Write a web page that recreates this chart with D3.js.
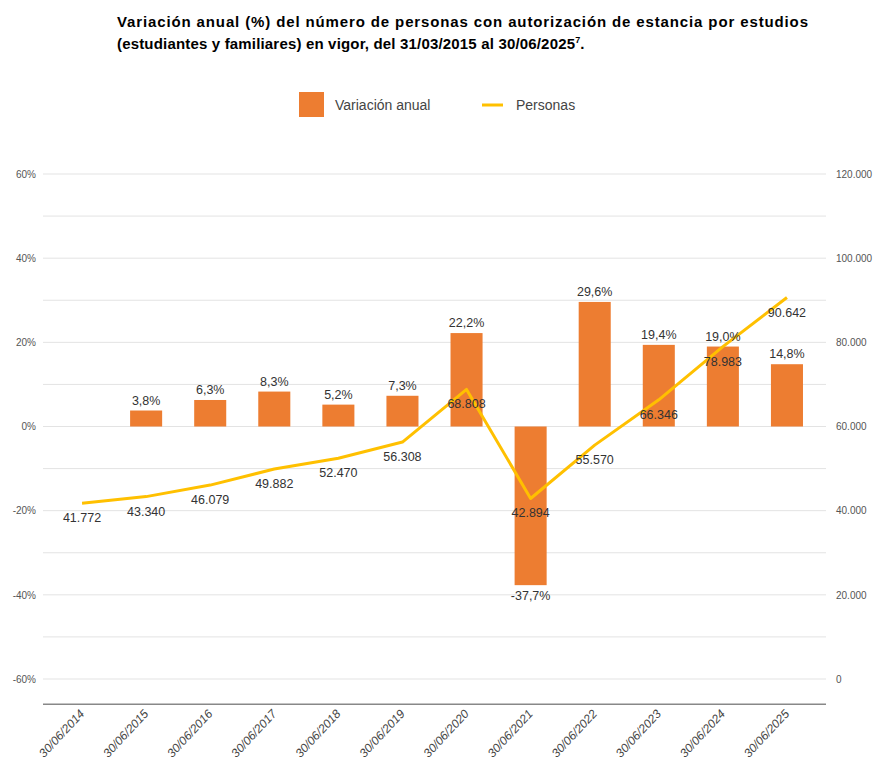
<!DOCTYPE html>
<html>
<head>
<meta charset="utf-8">
<script src="https://cdn.jsdelivr.net/npm/d3@7"></script>
<style>
  body { margin: 0; background: #fff; }
  svg { display: block; }
</style>
</head>
<body>
<svg id="chart"></svg>
<script>
const fechas = ["30/06/2014", "30/06/2015", "30/06/2016", "30/06/2017", "30/06/2018", "30/06/2019",
  "30/06/2020", "30/06/2021", "30/06/2022", "30/06/2023", "30/06/2024", "30/06/2025"];
const variacion = [null, 3.8, 6.3, 8.3, 5.2, 7.3, 22.2, -37.7, 29.6, 19.4, 19.0, 14.8];
const personas = [41772, 43340, 46079, 49882, 52470, 56308, 68808, 42894, 55570, 66346, 78983, 90642];
const ticksIzq = [-60, -40, -20, 0, 20, 40, 60];
const ticksDer = [0, 20000, 40000, 60000, 80000, 100000, 120000];

const width = 874, height = 768;
const svg = d3.select("#chart").attr("width", width).attr("height", height);

const es = d3.formatLocale({ decimal: ",", thousands: ".", grouping: [3], currency: ["", "€"], minus: "-" });
const fmtMiles = es.format(",d");
const fmtPct = es.format(".1f");

const x = d3.scaleBand().domain(fechas).range([50, 819]).paddingInner(0.5).paddingOuter(0.25);
const xc = d => x(d) + x.bandwidth() / 2;
const yL = d3.scaleLinear().domain([-60, 60]).range([679, 174]);
const yR = d3.scaleLinear().domain([0, 120000]).range([679, 174]);
const gridX0 = 43, gridX1 = 826;

// title
const title = svg.append("text")
  .attr("font-family", "'Liberation Sans Narrow', 'Liberation Sans', Arial, sans-serif")
  .attr("font-weight", "bold").attr("font-size", 15).attr("fill", "#000");
title.append("tspan").attr("x", 117).attr("y", 27)
  .attr("textLength", 691).attr("lengthAdjust", "spacing")
  .text("Variación anual (%) del número de personas con autorización de estancia por estudios");
title.append("tspan").attr("x", 117).attr("y", 49)
  .attr("textLength", 458).attr("lengthAdjust", "spacing")
  .text("(estudiantes y familiares) en vigor, del 31/03/2015 al 30/06/2025");
title.append("tspan").attr("font-size", 9).attr("dy", -6).text("7");
title.append("tspan").attr("dy", 6).text(".");

// legend
const legend = svg.append("g").attr("font-family", "Arial, 'Liberation Sans', sans-serif")
  .attr("font-size", 14).attr("fill", "#444");
legend.append("rect").attr("x", 299).attr("y", 92).attr("width", 25).attr("height", 25).attr("fill", "#ED7D31");
legend.append("text").attr("x", 335).attr("y", 110).text("Variación anual");
legend.append("line").attr("x1", 482).attr("x2", 503).attr("y1", 105).attr("y2", 105)
  .attr("stroke", "#FFC000").attr("stroke-width", 3);
legend.append("text").attr("x", 516).attr("y", 110).text("Personas");

// grid lines every 10%
svg.append("g").selectAll("line")
  .data(d3.range(-60, 61, 10))
  .join("line")
  .attr("x1", gridX0).attr("x2", gridX1)
  .attr("y1", d => yL(d)).attr("y2", d => yL(d))
  .attr("stroke", "#e3e3e3").attr("stroke-width", 1);

// axes
const axisL = svg.append("g").attr("transform", `translate(${gridX0 - 4},0)`)
  .call(d3.axisLeft(yL).tickValues(ticksIzq).tickSize(0).tickFormat(d => d + "%"));
const axisR = svg.append("g").attr("transform", `translate(${gridX1 + 7},0)`)
  .call(d3.axisRight(yR).tickValues(ticksDer).tickSize(0).tickFormat(fmtMiles));
[axisL, axisR].forEach(a => {
  a.select(".domain").remove();
  a.selectAll("text").attr("font-family", "Arial, 'Liberation Sans', sans-serif")
    .attr("font-size", 10).attr("fill", "#555");
});

// bars
const barData = fechas.map((f, i) => ({ f, v: variacion[i] })).filter(d => d.v !== null);
svg.append("g").selectAll("rect")
  .data(barData)
  .join("rect")
  .attr("x", d => x(d.f))
  .attr("width", x.bandwidth())
  .attr("y", d => yL(Math.max(0, d.v)))
  .attr("height", d => Math.abs(yL(d.v) - yL(0)))
  .attr("fill", "#ED7D31");

// bottom axis
const yBase = yL(-66);
svg.append("line").attr("x1", gridX0).attr("x2", gridX1).attr("y1", yBase).attr("y2", yBase)
  .attr("stroke", "#888").attr("stroke-width", 1.5);
svg.append("g").selectAll("text")
  .data(fechas)
  .join("text")
  .attr("transform", d => `translate(${xc(d) + 3},${yBase + 10}) rotate(-47)`)
  .attr("text-anchor", "end")
  .attr("font-family", "Arial, 'Liberation Sans', sans-serif")
  .attr("font-size", 12).attr("font-style", "italic").attr("fill", "#444")
  .text(d => d);

// line
const lineData = fechas.map((f, i) => ({ f, v: personas[i] }));
svg.append("path")
  .datum(lineData)
  .attr("fill", "none")
  .attr("stroke", "#FFC000")
  .attr("stroke-width", 3)
  .attr("stroke-linejoin", "round")
  .attr("d", d3.line().x(d => xc(d.f)).y(d => yR(d.v)));

// bar labels
const lblFont = "Arial, 'Liberation Sans', sans-serif";
svg.append("g").selectAll("text")
  .data(barData)
  .join("text")
  .attr("x", d => xc(d.f))
  .attr("y", d => d.v >= 0 ? yL(d.v) - 6 : yL(d.v) + 15)
  .attr("text-anchor", "middle")
  .attr("font-family", lblFont).attr("font-size", 12.5).attr("fill", "#333")
  .text(d => fmtPct(d.v) + "%");

// line labels
svg.append("g").selectAll("text")
  .data(lineData)
  .join("text")
  .attr("x", d => xc(d.f))
  .attr("y", d => yR(d.v) + 19)
  .attr("text-anchor", "middle")
  .attr("font-family", lblFont).attr("font-size", 12.5).attr("fill", "#333")
  .text(d => fmtMiles(d.v));
</script>
</body>
</html>
